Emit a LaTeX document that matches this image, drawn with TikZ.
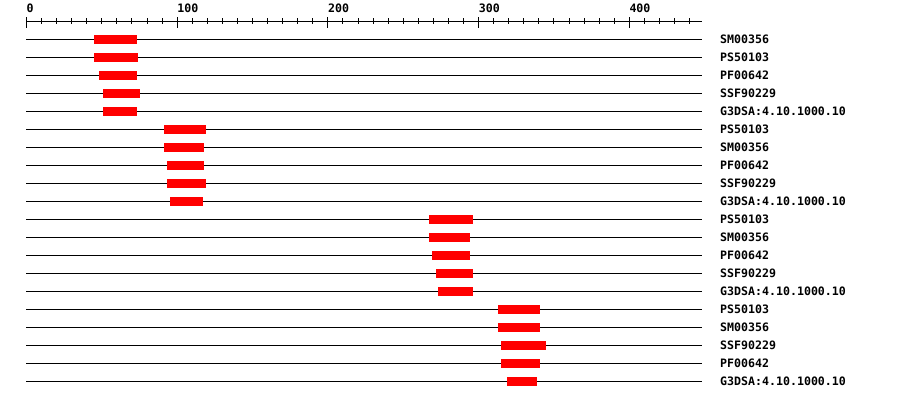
\documentclass[tikz,border=0pt]{standalone}
\usepackage{fontspec}
\newfontfamily\monofont{DejaVu Sans Mono}
\usepackage{tikz}

\begin{document}
\begin{tikzpicture}[
  x=1pt, y=-1pt,
  seqline/.style={line width=1pt, black},
  tick/.style={line width=1pt, black},
  hit/.style={fill=red, draw=none},
  axlabel/.style={anchor=base west, inner sep=0pt, font=\monofont\bfseries\fontsize{11.6}{12}\selectfont},
  dblabel/.style={axlabel}
]
\useasboundingbox[fill=white] (0,0) rectangle (900,400);

% sequence axis, 1 residue = 1.507px
\begin{scope}[xshift=26.5pt, x=1.507pt]
\draw[tick] (-0.3,21) -- (448,21);
\foreach \t in {0,10,...,440}
  \draw[tick] (\t,18) -- (\t,24);
\foreach \t in {0,100,...,400} {
  \draw[tick] (\t,17) -- (\t,28);
  \node[axlabel] (ax\t) at (\t,12) {\t};
}

% matches: database / start / end
\foreach [count=\i] \db/\s/\e in {
  SM00356/45/73, PS50103/45/74, PF00642/48/73, SSF90229/51/75,
  G3DSA:4.10.1000.10/51/73,
  PS50103/91/119, SM00356/91/118, PF00642/93/118, SSF90229/93/119,
  G3DSA:4.10.1000.10/95/117,
  PS50103/267/296, SM00356/267/294, PF00642/269/294, SSF90229/272/296,
  G3DSA:4.10.1000.10/273/296,
  PS50103/313/341, SM00356/313/341, SSF90229/315/345, PF00642/315/341,
  G3DSA:4.10.1000.10/319/339} {
  \pgfmathsetmacro{\ry}{21.3+18*\i}
  \draw[seqline] (-0.3,\ry) -- (448,\ry);
  \fill[hit] (\s,\ry-4.5) rectangle (\e,\ry+4.5);
  \node[dblabel] (db\i) at (460.2,\ry+4.4) {\db};
}
\end{scope}
\end{tikzpicture}
\end{document}
